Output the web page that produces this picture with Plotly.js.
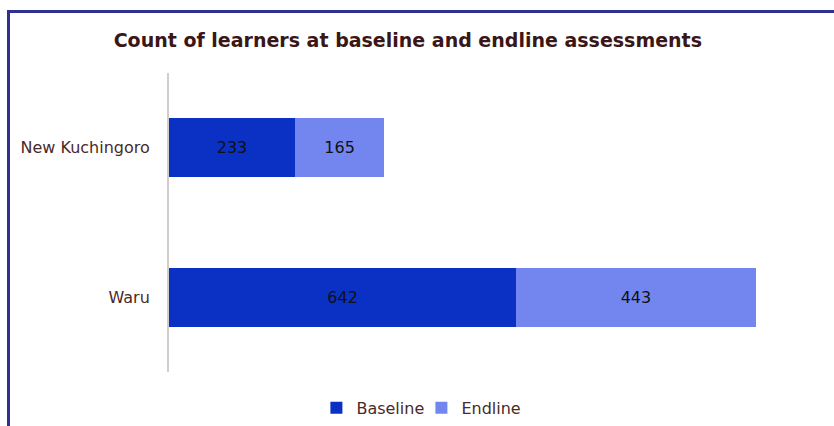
<!DOCTYPE html>
<html>
<head>
<meta charset="utf-8">
<script src="https://cdn.plot.ly/plotly-3.0.1.min.js"></script>
<style>
  html, body { margin: 0; padding: 0; background: #ffffff; }
  #wrap { position: relative; width: 834px; height: 426px; overflow: hidden; }
  #chart { width: 834px; height: 426px; }
  #frame { position: absolute; left: 7px; top: 10px; width: 840px; height: 430px;
           border-top: 3px solid #2E3192; border-left: 3px solid #2E3192;
           box-sizing: border-box; pointer-events: none; }
</style>
</head>
<body>
<div id="wrap">
  <div id="chart"></div>
  <div id="frame"></div>
</div>
<script>
const categories = ['Waru', 'New Kuchingoro'];
const baselineValues = [642, 233];
const endlineValues = [443, 165];
const seriesNames = ['Baseline', 'Endline'];
const titleText = 'Count of learners at baseline and endline assessments';

const baseColor = '#0A30C4';
const endColor = '#7386F0';
const labelFont = { family: 'DejaVu Sans, sans-serif', size: 16, color: '#111111' };

const traces = [
  {
    type: 'bar', orientation: 'h', name: seriesNames[0],
    y: categories, x: baselineValues,
    marker: { color: baseColor },
    text: baselineValues.map(String), textposition: 'inside', insidetextanchor: 'middle',
    textfont: labelFont, hoverinfo: 'x+y+name'
  },
  {
    type: 'bar', orientation: 'h', name: seriesNames[1],
    y: categories, x: endlineValues,
    marker: { color: endColor },
    text: endlineValues.map(String), textposition: 'inside', insidetextanchor: 'middle',
    textfont: labelFont, hoverinfo: 'x+y+name'
  }
];

const layout = {
  width: 834, height: 426,
  margin: { l: 169, r: 34, t: 73, b: 54, autoexpand: false },
  paper_bgcolor: '#ffffff', plot_bgcolor: '#ffffff',
  barmode: 'stack', bargap: 0.605,
  showlegend: true,
  title: {
    text: '<b>' + titleText + '</b>',
    font: { family: 'DejaVu Sans, sans-serif', size: 19, color: '#3a1616' },
    x: 0.489, xanchor: 'center', y: 0.906, yanchor: 'middle'
  },
  xaxis: {
    range: [0, 1167], showgrid: false, zeroline: false, showline: false,
    showticklabels: false, ticks: '', fixedrange: true, automargin: false
  },
  yaxis: {
    type: 'category', categoryorder: 'array', categoryarray: categories,
    showgrid: false, zeroline: false, automargin: false,
    showline: true, linecolor: '#d2cccc', linewidth: 2,
    ticks: '', ticklabelstandoff: 14,
    tickfont: { family: 'DejaVu Sans, sans-serif', size: 16, color: '#4a2a2a' }
  },
  legend: {
    orientation: 'h', x: 0.40, xanchor: 'center', y: -0.12, yanchor: 'middle',
    font: { family: 'DejaVu Sans, sans-serif', size: 16, color: '#4a2a2a' },
    itemwidth: 30, entrywidth: 60, entrywidthmode: 'pixels', traceorder: 'normal'
  }
};

Plotly.newPlot('chart', traces, layout, { displayModeBar: false, staticPlot: true });
</script>
</body>
</html>
